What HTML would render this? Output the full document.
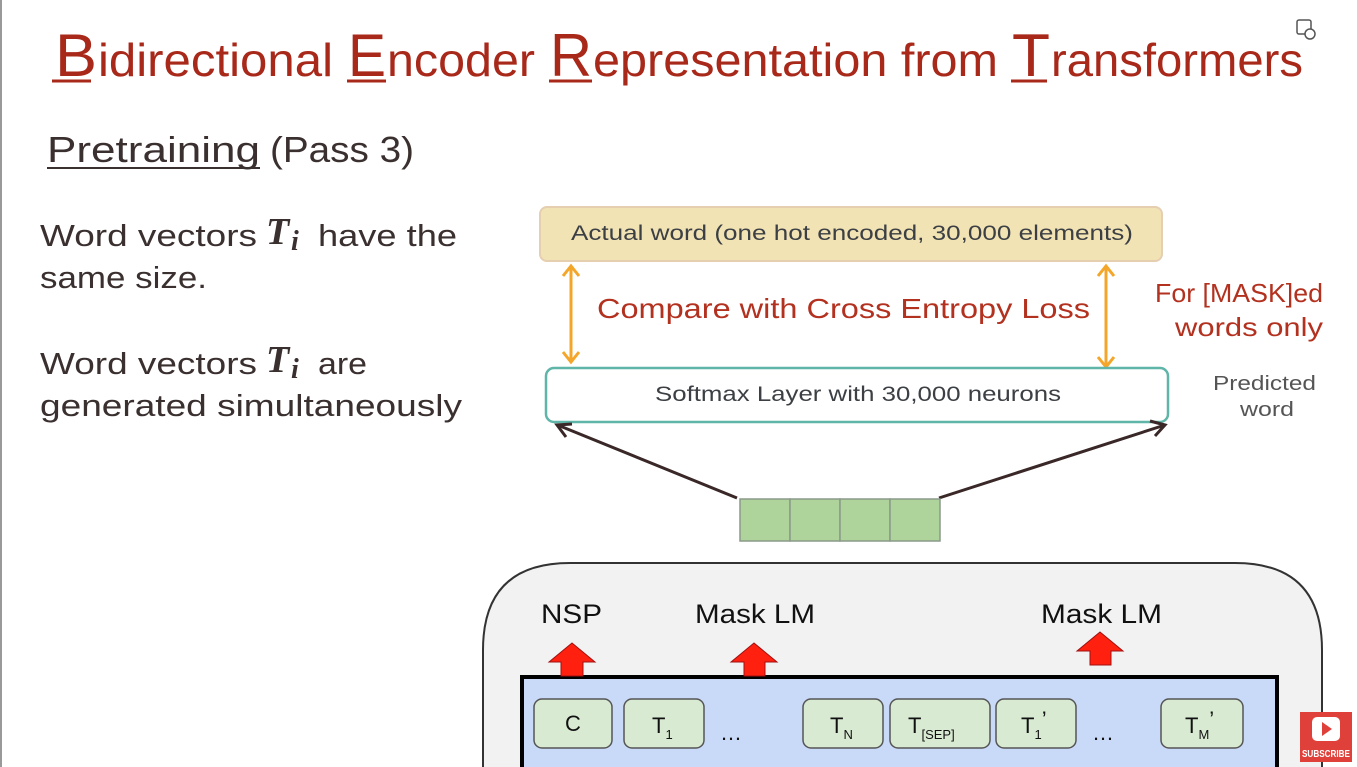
<!DOCTYPE html>
<html><head><meta charset="utf-8"><style>
html,body{margin:0;padding:0;background:#fff;}
svg{display:block;}
text{font-family:"Liberation Sans",sans-serif;}
</style></head><body>
<svg width="1357" height="767" viewBox="0 0 1357 767" xmlns="http://www.w3.org/2000/svg">
<rect width="1357" height="767" fill="#fff"/>
<line x1="1" y1="0" x2="1" y2="767" stroke="#999" stroke-width="2"/>
<!-- title -->
<g fill="#a8281a">
<text x="55" y="76" font-size="60" textLength="42" lengthAdjust="spacingAndGlyphs">B</text>
<text x="98" y="76" font-size="46" textLength="235" lengthAdjust="spacingAndGlyphs">idirectional</text>
<text x="348" y="76" font-size="60" textLength="38" lengthAdjust="spacingAndGlyphs">E</text>
<text x="387" y="76" font-size="46" textLength="148" lengthAdjust="spacingAndGlyphs">ncoder</text>
<text x="550" y="76" font-size="60" textLength="42" lengthAdjust="spacingAndGlyphs">R</text>
<text x="593" y="76" font-size="46" textLength="405" lengthAdjust="spacingAndGlyphs">epresentation from</text>
<text x="1012" y="76" font-size="60" textLength="38" lengthAdjust="spacingAndGlyphs">T</text>
<text x="1051" y="76" font-size="46" textLength="252" lengthAdjust="spacingAndGlyphs">ransformers</text>
</g>
<g stroke="#a8281a" stroke-width="3">
<line x1="52" y1="81" x2="91" y2="81"/><line x1="347" y1="81" x2="386" y2="81"/>
<line x1="549" y1="81" x2="592" y2="81"/><line x1="1011" y1="81" x2="1047" y2="81"/>
</g>
<!-- pretraining -->
<text x="47" y="162" fill="#3b3030" font-size="36" textLength="213" lengthAdjust="spacingAndGlyphs">Pretraining</text>
<text x="270" y="162" fill="#3b3030" font-size="36" textLength="144" lengthAdjust="spacingAndGlyphs">(Pass 3)</text>
<line x1="47" y1="168" x2="260" y2="168" stroke="#3b3030" stroke-width="2"/>
<!-- left text -->
<g fill="#3b3030" font-size="31">
<text x="40" y="246" textLength="217" lengthAdjust="spacingAndGlyphs">Word vectors</text>
<text x="266" y="244" style="font-family:'Liberation Serif',serif;font-style:italic;font-weight:bold" font-size="38">T</text>
<text x="291" y="250" style="font-family:'Liberation Serif',serif;font-style:italic;font-weight:bold" font-size="28">i</text>
<text x="318" y="246" textLength="139" lengthAdjust="spacingAndGlyphs">have the</text>
<text x="40" y="288" textLength="167" lengthAdjust="spacingAndGlyphs">same size.</text>
<text x="40" y="374" textLength="217" lengthAdjust="spacingAndGlyphs">Word vectors</text>
<text x="266" y="372" style="font-family:'Liberation Serif',serif;font-style:italic;font-weight:bold" font-size="38">T</text>
<text x="291" y="378" style="font-family:'Liberation Serif',serif;font-style:italic;font-weight:bold" font-size="28">i</text>
<text x="318" y="374" textLength="49" lengthAdjust="spacingAndGlyphs">are</text>
<text x="40" y="416" textLength="422" lengthAdjust="spacingAndGlyphs">generated simultaneously</text>
</g>
<!-- actual word box -->
<rect x="540" y="207" width="622" height="54" rx="7" fill="#f2e3b5" stroke="#e6ceb0" stroke-width="2"/>
<text x="571" y="240" fill="#3c4044" font-size="21" textLength="562" lengthAdjust="spacingAndGlyphs">Actual word (one hot encoded, 30,000 elements)</text>
<!-- orange arrows -->
<g stroke="#f4a62a" stroke-width="3" fill="none">
<line x1="571" y1="268" x2="571" y2="360"/><polyline points="563,276 571,266 579,276"/><polyline points="563,352 571,362 579,352"/>
<line x1="1106" y1="268" x2="1106" y2="365"/><polyline points="1098,276 1106,266 1114,276"/><polyline points="1098,357 1106,367 1114,357"/>
</g>
<text x="597" y="318" fill="#b3311f" font-size="28" textLength="493" lengthAdjust="spacingAndGlyphs">Compare with Cross Entropy Loss</text>
<text x="1155" y="302" fill="#b3311f" font-size="26" textLength="168" lengthAdjust="spacingAndGlyphs">For [MASK]ed</text>
<text x="1175" y="336" fill="#b3311f" font-size="26" textLength="148" lengthAdjust="spacingAndGlyphs">words only</text>
<!-- softmax -->
<rect x="546" y="368" width="622" height="54" rx="8" fill="#fff" stroke="#5fb5a8" stroke-width="2.5"/>
<text x="655" y="401" fill="#3c4044" font-size="21" textLength="406" lengthAdjust="spacingAndGlyphs">Softmax Layer with 30,000 neurons</text>
<text x="1213" y="390" fill="#555" font-size="20" textLength="103" lengthAdjust="spacingAndGlyphs">Predicted</text>
<text x="1240" y="416" fill="#555" font-size="20" textLength="54" lengthAdjust="spacingAndGlyphs">word</text>
<!-- black arrows -->
<g stroke="#3a2828" stroke-width="3" fill="none">
<line x1="737" y1="498" x2="560" y2="426"/><polyline points="572,424 557,425 566,437"/>
<line x1="939" y1="498" x2="1165" y2="425"/><polyline points="1150,421 1165,425 1155,436"/>
</g>
<!-- green vector -->
<g fill="#aed49b" stroke="#8a9a88" stroke-width="1.5">
<rect x="740" y="499" width="50" height="42"/><rect x="790" y="499" width="50" height="42"/>
<rect x="840" y="499" width="50" height="42"/><rect x="890" y="499" width="50" height="42"/>
</g>
<!-- BERT box -->
<path d="M483,767 L483,650 Q483,563 570,563 L1235,563 Q1322,563 1322,650 L1322,767" fill="#f2f2f2" stroke="#333" stroke-width="2"/>
<rect x="522" y="677" width="755" height="100" fill="#c9daf8" stroke="#000" stroke-width="4"/>
<g font-size="27" fill="#111">
<text x="541" y="623" textLength="61" lengthAdjust="spacingAndGlyphs">NSP</text>
<text x="695" y="623" textLength="120" lengthAdjust="spacingAndGlyphs">Mask LM</text>
<text x="1041" y="623" textLength="121" lengthAdjust="spacingAndGlyphs">Mask LM</text>
</g>
<g fill="#ff2010" stroke="#a01010" stroke-width="1">
<polygon points="561,676 561,662 549,662 572,643 595,662 583,662 583,676"/>
<polygon points="744,676 744,662 731,662 754,643 777,662 765,662 765,676"/>
<polygon points="1090,665 1090,651 1077,651 1100,632 1123,651 1111,651 1111,665"/>
</g>
<g fill="#d9ead3" stroke="#555" stroke-width="1.5">
<rect x="534" y="699" width="78" height="49" rx="8"/>
<rect x="624" y="699" width="80" height="49" rx="8"/>
<rect x="803" y="699" width="80" height="49" rx="8"/>
<rect x="890" y="699" width="100" height="49" rx="8"/>
<rect x="996" y="699" width="80" height="49" rx="8"/>
<rect x="1161" y="699" width="82" height="49" rx="8"/>
</g>
<g font-size="22" fill="#111">
<text x="573" y="731" text-anchor="middle">C</text>
<text x="652" y="733">T<tspan font-size="13" dy="6">1</tspan></text>
<text x="720" y="740">…</text>
<text x="830" y="733">T<tspan font-size="13" dy="6">N</tspan></text>
<text x="908" y="733">T<tspan font-size="13" dy="6">[SEP]</tspan></text>
<text x="1021" y="733">T<tspan font-size="13" dy="6">1</tspan><tspan dy="-12">’</tspan></text>
<text x="1092" y="740">…</text>
<text x="1185" y="733">T<tspan font-size="13" dy="6">M</tspan><tspan dy="-12">’</tspan></text>
</g>
<!-- subscribe -->
<rect x="1300" y="712" width="52" height="50" fill="#e0403a"/>
<rect x="1312" y="717" width="28" height="24" rx="5" fill="#fff"/>
<polygon points="1322,722 1322,736 1332,729" fill="#e0403a"/>
<text x="1302" y="757" fill="#fff" font-size="10" font-weight="bold" textLength="48" lengthAdjust="spacingAndGlyphs">SUBSCRIBE</text>
<!-- corner icon -->
<rect x="1297" y="20" width="14" height="14" rx="2" fill="none" stroke="#555" stroke-width="1.5"/>
<circle cx="1310" cy="34" r="5" fill="#fff" stroke="#555" stroke-width="1.5"/>
</svg>
</body></html>
